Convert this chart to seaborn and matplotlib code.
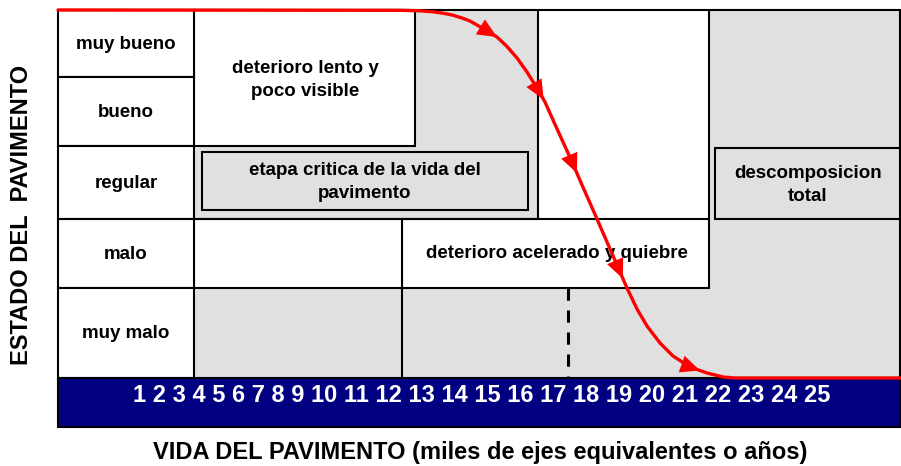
import numpy as np
import pandas as pd
import matplotlib
matplotlib.use("Agg")
import matplotlib.pyplot as plt
from matplotlib.patches import Rectangle, FancyArrowPatch
import seaborn as sns

sns.set_style("white")
plt.rcParams['font.family'] = ['Liberation Sans', 'DejaVu Sans']
plt.rcParams['font.weight'] = 'bold'
plt.rcParams['text.color'] = 'black'

# ---- data ----
condition_labels = ["muy bueno", "bueno", "regular", "malo", "muy malo"]
life_ticks = list(range(1, 26))
stage_texts = ["deterioro lento y\npoco visible",
               "etapa critica de la vida del\npavimento",
               "deterioro acelerado y quiebre",
               "descomposicion\ntotal"]
# deterioration curve (diagram units: x to the right, y downward)
curve_x = [58, 400, 420, 433, 443, 453, 462, 470, 483, 497, 507, 517, 527,
           537, 545, 553, 563, 573, 582, 590, 597, 607, 617, 627, 637, 647,
           660, 673, 690, 707, 723, 735, 901]
curve_y = [10, 10.3, 10.8, 11.8, 13.2, 15.2, 18, 21, 28.5, 37, 46.5, 58, 72,
           88, 102, 120, 142, 164, 185, 203, 219, 242, 265, 288, 309, 326,
           343, 356, 367, 373, 377, 378, 378]
arrow_x = [497, 545, 578, 624, 700]

# ---- layout ----
W, H = 901, 466
fig = plt.figure(figsize=(W / 100, H / 100), dpi=100)
ax = fig.add_axes([0, 0, 1, 1])

LW = 1.5
GRAY = "#e0e0e0"
FS = 13.5
row_edges = [10, 77, 146, 219, 288, 378]
left, col1, right = 58, 194, 900

def rect(x0, y0, x1, y1, fc, ec="black", lw=LW, z=1):
    ax.add_patch(Rectangle((x0, y0), x1 - x0, y1 - y0, facecolor=fc,
                           edgecolor=ec if ec else "none", lw=lw if ec else 0,
                           zorder=z))

# gray background of the diagram
rect(col1, 10, W, 378, GRAY, ec=None, z=1)
# white regions
rect(538, 10, 709, 219, "white", ec=None, z=2)
rect(col1, 10, 415, 146, "white", z=3)
rect(402, 219, 709, 288, "white", z=3)
rect(col1, 219, 402, 288, "white", z=3)
ax.plot([538, 538], [10, 219], color="black", lw=LW, zorder=3)
ax.plot([col1, 538], [219, 219], color="black", lw=LW, zorder=3)
ax.plot([709, 709], [10, 219], color="black", lw=LW, zorder=3)
ax.plot([402, 402], [288, 378], color="black", lw=LW, zorder=3)
ax.plot([left, W], [10, 10], color="black", lw=LW, zorder=3)
ax.plot([right, right], [10, 378], color="black", lw=LW, zorder=3)

# stage boxes
rect(202, 152, 528, 210, GRAY, z=4)
rect(715, 148, right, 219, GRAY, z=4)

# condition label column
for i, lab in enumerate(condition_labels):
    y0, y1 = row_edges[i], row_edges[i + 1]
    rect(left, y0, col1, y1, "white", z=4)
    ax.text((left + col1) / 2, (y0 + y1) / 2 + 1, lab, ha="center",
            va="center", fontsize=FS, fontweight="bold", zorder=6)

# stage texts
ax.text(305, 80, stage_texts[0], ha="center", va="center", fontsize=FS,
        fontweight="bold", linespacing=1.5, zorder=6)
ax.text(365, 182, stage_texts[1], ha="center", va="center", fontsize=FS,
        fontweight="bold", linespacing=1.5, zorder=6)
ax.text(557, 254, stage_texts[2], ha="center", va="center", fontsize=FS,
        fontweight="bold", zorder=6)
ax.text(808, 185, stage_texts[3], ha="center", va="center", fontsize=FS,
        fontweight="bold", linespacing=1.5, zorder=6)

# dashed line
ax.plot([568, 568], [288, 378], color="black", lw=2.2, ls=(0, (4, 3.2)),
        zorder=5)

# blue bar with life values
rect(left, 378, W, 427, "#000080", z=5)
ax.text(482, 396, " ".join(str(t) for t in life_ticks),
        ha="center", va="center", color="white", fontsize=17,
        fontweight="bold", zorder=6)

# curve
df = pd.DataFrame({"x": curve_x, "y": curve_y})
sns.lineplot(data=df, x="x", y="y", sort=False, estimator=None, color="red",
             lw=2.4, ax=ax, zorder=7)

for ax_x in arrow_x:
    y_end = np.interp(ax_x, curve_x, curve_y)
    y_start = np.interp(ax_x - 4, curve_x, curve_y)
    ax.add_patch(FancyArrowPatch((ax_x - 4, y_start), (ax_x, y_end),
                                 arrowstyle="-|>,head_length=1.0,head_width=0.45",
                                 mutation_scale=14, color="red", lw=0,
                                 zorder=8))

# axis labels
ax.text(22, 215, "ESTADO DEL  PAVIMENTO", rotation=90, ha="center",
        va="center", fontsize=17, fontweight="bold")
ax.text(480, 453, "VIDA DEL PAVIMENTO (miles de ejes equivalentes o años)",
        ha="center", va="center", fontsize=17, fontweight="bold")

ax.set_xlim(0, W)
ax.set_ylim(H, 0)
ax.axis("off")

fig.savefig("out.png", dpi=100)
